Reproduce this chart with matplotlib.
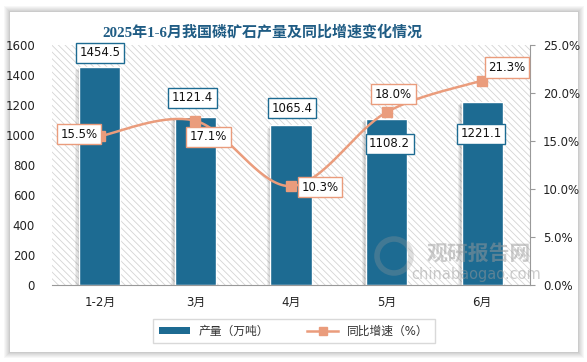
import numpy as np
import matplotlib
matplotlib.use("Agg")
import matplotlib.pyplot as plt
from matplotlib.patches import Rectangle, Patch, Ellipse
from matplotlib.lines import Line2D

plt.rcParams['font.family'] = ['DejaVu Sans', 'Noto Sans CJK SC']

categories = ['1-2月', '3月', '4月', '5月', '6月']
output = [1454.5, 1121.4, 1065.4, 1108.2, 1221.1]
growth = [15.5, 17.1, 10.3, 18.0, 21.3]
left_ticks = [0, 200, 400, 600, 800, 1000, 1200, 1400, 1600]
right_ticks = [0, 5, 10, 15, 20, 25]
title = '2025年1-6月我国磷矿石产量及同比增速变化情况'
legend_labels = ['产量（万吨）', '同比增速（%）']

BAR = '#1d6b92'
LINE = '#ea9c7c'
W, H = 587, 362
PX = 0.72  # points per pixel at dpi 100

fig = plt.figure(figsize=(W / 100, H / 100), dpi=100)
fig.patch.set_facecolor('white')

# card with soft shadow
cx0, cy0, cx1, cy1 = 10, 12, 578, 352
for i, a in enumerate([0.03, 0.03, 0.03, 0.03, 0.04, 0.05]):
    d = 6 - i
    fig.patches.append(Rectangle(((cx0 - d) / W, 1 - (cy1 + d) / H),
                                 (cx1 - cx0 + 2 * d) / W, (cy1 - cy0 + 2 * d) / H,
                                 transform=fig.transFigure, facecolor='black',
                                 edgecolor='none', alpha=a, zorder=0))
fig.patches.append(Rectangle((cx0 / W, 1 - cy1 / H), (cx1 - cx0) / W, (cy1 - cy0) / H,
                             transform=fig.transFigure, facecolor='white',
                             edgecolor='none', zorder=0.5))

pl, pr, pt, pb = 52, 530, 45, 285
ax = fig.add_axes([pl / W, 1 - pb / H, (pr - pl) / W, (pb - pt) / H])
ax.set_zorder(2)
ax.patch.set_facecolor('white')
plt.rcParams['hatch.linewidth'] = 0.6
ax.add_patch(Rectangle((0, 0), 1, 1, transform=ax.transAxes, facecolor='white',
                       edgecolor='#d4d4d4', hatch='\\\\\\\\\\', linewidth=0, zorder=0))

x = np.arange(len(categories))
bw = 0.43
# bar shadows
for k, a in enumerate([0.06, 0.06, 0.08]):
    off = 0.012 * (3 - k)
    ax.bar(x - off, output, width=bw + 0.01, bottom=-8 * (3 - k), color='black',
           alpha=a, linewidth=0, zorder=1)
ax.bar(x, output, width=bw, color=BAR, edgecolor='white', linewidth=1.0, zorder=2)

ax.set_xlim(-0.5, len(categories) - 0.5)
ax.set_ylim(0, 1600)
ax.set_yticks(left_ticks)
ax.set_xticks(x)
ax.set_xticklabels(categories, fontsize=8.5, color='#222222')
ax.tick_params(axis='x', length=0, pad=11 * PX)
ax.tick_params(axis='y', length=0, pad=17 * PX, labelsize=8.5, labelcolor='#222222')
for s in ['left', 'top', 'right']:
    ax.spines[s].set_visible(False)
ax.spines['bottom'].set_color('#999999')

ax2 = ax.twinx()
ax2.set_ylim(0, 25)
ax2.set_yticks(right_ticks)
ax2.set_yticklabels(['%.1f%%' % v for v in right_ticks])
ax2.tick_params(axis='y', direction='out', length=5 * PX, width=0.8, color='#999999',
                pad=8 * PX, labelsize=8.5, labelcolor='#222222')
for s in ['left', 'top', 'bottom']:
    ax2.spines[s].set_visible(False)
ax2.spines['right'].set_color('#999999')

# smooth line (Catmull-Rom style, in pixel-scaled space)
sx = (pr - pl) / len(categories)
sy = (pb - pt) / 25.0
P = np.column_stack([x * sx, np.array(growth) * sy])
curve = []
n = len(P)
for i in range(n - 1):
    p0 = P[max(i - 1, 0)]
    p1 = P[i]
    p2 = P[i + 1]
    p3 = P[min(i + 2, n - 1)]
    c1 = p1 + (p2 - p0) / 6.0
    c2 = p2 - (p3 - p1) / 6.0
    t = np.linspace(0, 1, 40)[:, None]
    seg = (1 - t) ** 3 * p1 + 3 * (1 - t) ** 2 * t * c1 + 3 * (1 - t) * t ** 2 * c2 + t ** 3 * p2
    curve.append(seg if i == 0 else seg[1:])
curve = np.vstack(curve)
ax2.plot(curve[:, 0] / sx, curve[:, 1] / sy, color=LINE, linewidth=1.8, zorder=3)
ax2.plot(x, growth, linestyle='none', marker='s', markersize=7, color=LINE, zorder=4)

# bar labels
bar_off = [(0, 14), (-3, 19), (1, 17), (3, -25), (-1, -32)]
for xi, v, (dx, dy) in zip(x, output, bar_off):
    ax.annotate('%.1f' % v, (xi, v), xytext=(dx, dy), textcoords='offset pixels',
                ha='center', va='center', fontsize=8.5, color='#111111', zorder=5,
                bbox=dict(boxstyle='square,pad=0.3', facecolor='white', edgecolor=BAR,
                          linewidth=1.0))
line_off = [(-21, 2), (13, -16), (29, -1), (7, 18), (25, 13)]
for xi, v, (dx, dy) in zip(x, growth, line_off):
    ax2.annotate('%.1f%%' % v, (xi, v), xytext=(dx, dy), textcoords='offset pixels',
                 ha='center', va='center', fontsize=8.5, color='#111111', zorder=6,
                 bbox=dict(boxstyle='square,pad=0.3', facecolor='white', edgecolor=LINE,
                           linewidth=1.0))

# watermark
fig.text(479 / W, 1 - 253 / H, '观研报告网', fontsize=15, fontweight='bold',
         color='#9a9a9a', alpha=0.5, ha='center', va='center',
         family=['Noto Sans CJK SC'], zorder=10)
fig.text(476 / W, 1 - 275 / H, 'chinabaogao.com', fontsize=10.5,
         color='#9a9a9a', alpha=0.5, ha='center', va='center', zorder=10)
fig.patches.append(Ellipse((394 / W, 1 - 256 / H), 34 / W, 34 / H, transform=fig.transFigure,
                           facecolor='none', edgecolor='#9a9a9a', linewidth=4,
                           alpha=0.3, zorder=10))

fig.text(262 / W, 1 - 32 / H, title, fontsize=10.8, fontweight='bold', color='#1f5c84',
         ha='center', va='center', family=['Liberation Serif', 'Noto Sans CJK SC'])

handles = [Patch(facecolor=BAR, edgecolor='none'),
           Line2D([0], [0], color=LINE, linewidth=1.8, marker='s', markersize=6)]
leg = fig.legend(handles, legend_labels, loc='center', bbox_to_anchor=(294 / W, 1 - 331 / H),
                 ncol=2, frameon=True, fontsize=8.5, handlelength=2.6, handleheight=0.5,
                 columnspacing=3.2, borderpad=0.5, fancybox=False, edgecolor='#d0d0d0')
leg.get_frame().set_linewidth(1.0)
for t in leg.get_texts():
    t.set_color('#333333')

fig.savefig('out.png', dpi=100, facecolor='white')
